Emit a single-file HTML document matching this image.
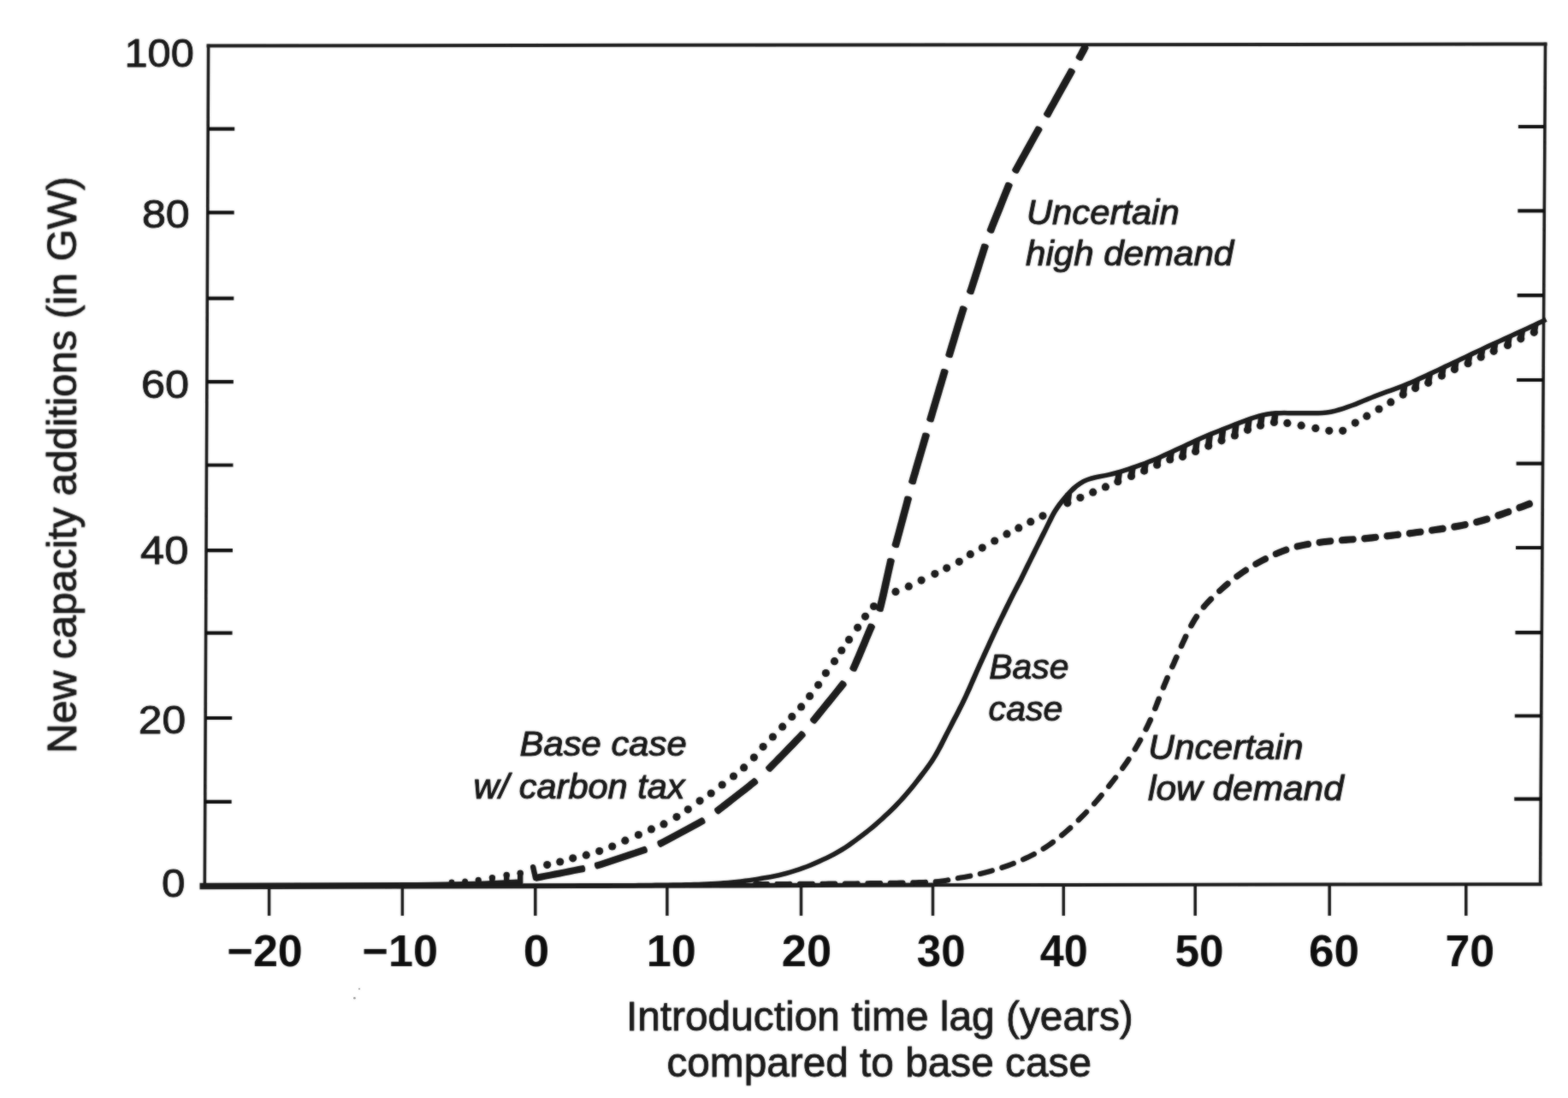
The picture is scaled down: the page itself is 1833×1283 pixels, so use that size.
<!DOCTYPE html>
<html lang="en">
<head>
<meta charset="utf-8">
<title>New capacity additions vs. introduction time lag</title>
<style>
html,body{margin:0;padding:0;background:#fff;}
body{width:1833px;height:1283px;overflow:hidden;}
svg{display:block;}
text{font-family:"Liberation Sans","DejaVu Sans",sans-serif;fill:#1a1a1a;}
.r{stroke:#1a1a1a;stroke-width:0.9px;stroke-linejoin:round;}
.b{font-weight:bold;fill:#080808;}
.i{font-style:italic;stroke:#1a1a1a;stroke-width:1.1px;stroke-linejoin:round;}
</style>
</head>
<body>
<svg width="1833" height="1283" viewBox="0 0 1833 1283">
<defs><filter id="soft" x="0" y="0" width="1833" height="1283" filterUnits="userSpaceOnUse"><feGaussianBlur stdDeviation="0.9" result="b"/><feComposite in="SourceGraphic" in2="b" operator="arithmetic" k1="0" k2="0.5" k3="0.5" k4="0"/></filter></defs>
<rect width="1833" height="1283" fill="#fff"/>
<g id="figure" filter="url(#soft)">
<g id="axes" fill="none" stroke="#1a1a1a">
<path id="frame-h" d="M243.6 53.5 L1806.5 51.5 M1800.6 1033.2 L239.3 1035.4" stroke-width="4" stroke-linecap="square"/>
<path id="frame-v" d="M243.6 53.5 L239.3 1035.4 M1806.5 51.5 L1800.6 1033.2" stroke-width="3.6" stroke-linecap="square"/>
<path id="yticks" d="M243.2 150.6 h31 M242.7 248.4 h31 M242.3 348.6 h31 M241.9 446.1 h31 M241.5 543.5 h31 M241 643.1 h31 M240.6 739.7 h31 M240.2 839 h31 M239.7 936.8 h31 M1805.9 148 h-31 M1805.3 246.4 h-31 M1804.7 345.2 h-31 M1804.1 444 h-31 M1803.6 541.6 h-31 M1803 640 h-31 M1802.4 739.1 h-31 M1801.8 836.5 h-31 M1801.2 933.6 h-31" stroke-width="4.2" stroke="#111"/>
<path id="xticks" d="M314.6 1035.3 V1070 M470.4 1035.1 V1070 M625.8 1034.9 V1070 M779.9 1034.6 V1070 M936.5 1034.4 V1070 M1090.5 1034.2 V1070 M1243.3 1034 V1070 M1397.2 1033.8 V1070 M1554.2 1033.5 V1070 M1713.8 1033.3 V1070" stroke-width="3.5"/>
</g>
<g id="curves" fill="#1a1a1a" stroke="none">
<path id="zero-band" d="M233.5 1031.8 L480 1031 L520 1030.6 L565 1029.6 L609.5 1027.2 L609.5 1032.4 L880 1031.8 L1092 1031.6 L1092 1036.4 L880 1037.4 L609.5 1038.3 L233.5 1039.2 Z"/>
<path id="base-case" d="M612 1037.9 L617 1037.9 L622 1037.9 L627 1037.9 L631.9 1037.9 L636.9 1037.9 L641.9 1037.9 L646.9 1037.9 L651.9 1037.9 L656.9 1037.9 L661.8 1037.9 L666.8 1037.9 L671.8 1037.9 L676.8 1037.8 L681.8 1037.8 L686.8 1037.8 L691.7 1037.8 L696.7 1037.8 L701.7 1037.7 L706.7 1037.7 L711.7 1037.7 L716.7 1037.6 L721.7 1037.6 L726.6 1037.6 L731.6 1037.5 L736.6 1037.5 L741.6 1037.4 L746.6 1037.3 L751.6 1037.3 L756.6 1037.2 L761.5 1037.2 L766.5 1037.1 L771.5 1037 L776.5 1037 L781.5 1036.9 L786.5 1036.8 L791.4 1036.8 L796.4 1036.7 L801.4 1036.6 L806.4 1036.5 L811.4 1036.3 L816.4 1036.2 L821.4 1036 L826.4 1035.8 L831.4 1035.5 L836.4 1035.2 L841.4 1034.9 L846.4 1034.5 L851.4 1034.1 L856.4 1033.7 L861.3 1033.2 L866.3 1032.6 L871.3 1032 L876.3 1031.3 L881.2 1030.6 L886.2 1029.9 L891.1 1029.1 L896.1 1028.3 L901 1027.4 L905.9 1026.5 L910.9 1025.4 L915.8 1024.2 L920.7 1022.9 L925.5 1021.6 L930.3 1020.1 L935.1 1018.5 L939.9 1016.8 L944.6 1015.1 L949.3 1013.2 L953.9 1011.3 L958.5 1009.2 L963.1 1007.1 L967.6 1005 L972.1 1002.7 L976.6 1000.4 L981 997.9 L985.4 995.4 L989.7 992.7 L993.9 989.9 L998 987 L1002 984 L1006.1 981 L1010.1 978 L1014 974.9 L1018 971.8 L1021.9 968.7 L1025.7 965.4 L1029.5 962.1 L1033.3 958.8 L1036.9 955.3 L1040.6 951.9 L1044.2 948.4 L1047.8 944.9 L1051.3 941.3 L1054.8 937.6 L1058.1 933.9 L1061.5 930.1 L1064.7 926.3 L1067.9 922.4 L1071.1 918.5 L1074.2 914.6 L1077.3 910.7 L1080.3 906.7 L1083.3 902.7 L1086.3 898.7 L1089.3 894.6 L1092.1 890.4 L1094.9 886.1 L1097.5 881.8 L1099.9 877.3 L1102.3 872.9 L1104.5 868.4 L1106.8 864 L1109 859.5 L1111.3 855.1 L1113.6 850.7 L1115.9 846.3 L1118.2 841.8 L1120.5 837.4 L1122.8 833 L1125 828.5 L1127.3 824 L1129.5 819.5 L1131.6 815 L1133.7 810.4 L1135.8 805.9 L1137.8 801.3 L1139.8 796.7 L1141.8 792.2 L1143.8 787.6 L1145.8 783.1 L1147.8 778.5 L1149.9 774 L1151.9 769.4 L1154 764.9 L1156 760.4 L1158.1 755.9 L1160.2 751.3 L1162.3 746.8 L1164.4 742.3 L1166.5 737.8 L1168.6 733.3 L1170.8 728.8 L1172.9 724.3 L1175.1 719.9 L1177.3 715.4 L1179.5 710.9 L1181.7 706.5 L1183.9 702 L1186.1 697.6 L1188.4 693.1 L1190.7 688.7 L1193 684.3 L1195.3 679.9 L1197.5 675.4 L1199.7 670.9 L1201.9 666.4 L1204.1 662 L1206.3 657.5 L1208.5 653 L1210.8 648.6 L1213 644.1 L1215.2 639.6 L1217.4 635.2 L1219.6 630.7 L1221.9 626.3 L1224.1 621.8 L1226.3 617.3 L1228.5 612.8 L1230.7 608.4 L1232.9 604 L1235.2 599.8 L1237.8 595.7 L1240.6 591.7 L1243.5 587.8 L1246.6 584 L1249.8 580.3 L1253.1 576.8 L1256.6 573.4 L1260.1 570.2 L1263.9 567.4 L1267.9 565 L1272.2 563.1 L1276.7 561.7 L1281.4 560.5 L1286.2 559.5 L1291.1 558.6 L1296.1 557.5 L1301 556.4 L1305.9 555.2 L1310.7 553.8 L1315.5 552.3 L1320.3 550.7 L1325 549.1 L1329.8 547.5 L1334.5 545.8 L1339.2 544.1 L1343.9 542.3 L1348.6 540.5 L1353.2 538.5 L1357.8 536.5 L1362.4 534.4 L1366.9 532.3 L1371.5 530.3 L1376 528.2 L1380.5 526.1 L1385.1 524 L1389.6 521.9 L1394.1 519.8 L1398.6 517.7 L1403.1 515.6 L1407.6 513.5 L1412.1 511.6 L1416.7 509.7 L1421.3 507.9 L1426 506.1 L1430.6 504.2 L1435.2 502.4 L1439.9 500.6 L1444.5 498.7 L1449.1 497 L1453.8 495.2 L1458.4 493.5 L1463.1 491.8 L1467.7 490.3 L1472.4 488.9 L1477.1 487.6 L1481.8 486.7 L1486.6 486 L1491.4 485.6 L1496.3 485.4 L1501.2 485.3 L1506.2 485.4 L1511.2 485.4 L1516.2 485.4 L1521.1 485.5 L1526.1 485.5 L1531.1 485.6 L1536.1 485.6 L1541.2 485.6 L1546.3 485.3 L1551.4 484.8 L1556.5 483.9 L1561.5 482.8 L1566.4 481.4 L1571.2 479.9 L1576 478.3 L1580.7 476.6 L1585.5 474.9 L1590.1 473 L1594.7 471.1 L1599.3 469.2 L1603.9 467.3 L1608.6 465.5 L1613.2 463.7 L1617.8 462 L1622.5 460.3 L1627.2 458.7 L1631.9 457 L1636.6 455.2 L1641.3 453.4 L1645.9 451.5 L1650.6 449.5 L1655.1 447.5 L1659.7 445.4 L1664.2 443.4 L1668.8 441.3 L1673.3 439.2 L1677.8 437 L1682.3 434.9 L1686.8 432.8 L1691.3 430.7 L1695.9 428.5 L1700.4 426.4 L1704.9 424.3 L1709.4 422.1 L1713.9 420 L1718.4 417.8 L1722.9 415.7 L1727.4 413.6 L1731.9 411.4 L1736.4 409.3 L1740.9 407.2 L1745.4 405.1 L1749.9 403 L1754.4 401 L1759 398.9 L1763.5 396.9 L1768.1 394.8 L1772.6 392.7 L1777.1 390.7 L1781.7 388.6 L1786.2 386.5 L1790.7 384.4 L1795.3 382.3 L1799.8 380.1 L1804.3 377.9 L1808.7 375.7 L1806.3 370.7 L1801.8 372.9 L1797.3 375 L1792.8 377.2 L1788.4 379.3 L1783.8 381.4 L1779.3 383.5 L1774.8 385.6 L1770.3 387.6 L1765.7 389.7 L1761.2 391.8 L1756.7 393.8 L1752.1 395.9 L1747.6 397.9 L1743 400 L1738.5 402.1 L1734 404.2 L1729.5 406.4 L1725 408.5 L1720.5 410.6 L1716 412.8 L1711.5 414.9 L1707 417.1 L1702.5 419.2 L1698 421.3 L1693.5 423.5 L1688.9 425.6 L1684.4 427.7 L1679.9 429.9 L1675.4 432 L1670.9 434.1 L1666.4 436.2 L1661.9 438.3 L1657.4 440.3 L1652.9 442.4 L1648.3 444.4 L1643.8 446.3 L1639.2 448.2 L1634.6 450 L1630 451.7 L1625.3 453.4 L1620.6 455.1 L1615.9 456.8 L1611.2 458.5 L1606.5 460.3 L1601.9 462.2 L1597.2 464 L1592.6 465.9 L1588 467.8 L1583.4 469.7 L1578.8 471.4 L1574.2 473.1 L1569.5 474.7 L1564.8 476.1 L1560.1 477.4 L1555.4 478.5 L1550.7 479.3 L1545.9 479.8 L1541 480.1 L1536.1 480.1 L1531.2 480.1 L1526.2 480 L1521.2 480 L1516.2 479.9 L1511.2 479.9 L1506.2 479.9 L1501.2 479.8 L1496.2 479.9 L1491.1 480.1 L1486 480.5 L1480.9 481.2 L1475.9 482.2 L1470.9 483.5 L1466.1 485 L1461.3 486.6 L1456.5 488.3 L1451.8 490 L1447.1 491.7 L1442.5 493.5 L1437.8 495.4 L1433.2 497.2 L1428.5 499.1 L1423.9 500.9 L1419.3 502.7 L1414.6 504.6 L1410 506.4 L1405.4 508.4 L1400.8 510.5 L1396.2 512.6 L1391.7 514.7 L1387.2 516.8 L1382.7 518.9 L1378.2 521 L1373.7 523.1 L1369.1 525.2 L1364.6 527.2 L1360.1 529.3 L1355.5 531.4 L1351 533.4 L1346.5 535.3 L1341.9 537.1 L1337.3 538.9 L1332.6 540.6 L1328 542.2 L1323.3 543.8 L1318.5 545.4 L1313.8 547 L1309.1 548.5 L1304.4 549.8 L1299.7 551 L1294.9 552.2 L1290 553.2 L1285.2 554.1 L1280.2 555.1 L1275.2 556.3 L1270.2 557.9 L1265.4 560 L1260.8 562.7 L1256.6 565.7 L1252.6 569.1 L1249 572.7 L1245.5 576.5 L1242.2 580.3 L1239 584.2 L1235.8 588.2 L1232.9 592.4 L1230.1 596.7 L1227.6 601.2 L1225.3 605.7 L1223.2 610.2 L1221 614.7 L1218.8 619.2 L1216.5 623.6 L1214.3 628.1 L1212.1 632.5 L1209.9 637 L1207.6 641.5 L1205.4 645.9 L1203.2 650.4 L1201 654.9 L1198.8 659.3 L1196.6 663.8 L1194.4 668.3 L1192.2 672.7 L1190 677.2 L1187.7 681.6 L1185.4 686 L1183.1 690.4 L1180.8 694.9 L1178.6 699.3 L1176.4 703.8 L1174.1 708.3 L1171.9 712.8 L1169.8 717.3 L1167.6 721.8 L1165.4 726.3 L1163.3 730.8 L1161.1 735.3 L1159 739.8 L1156.9 744.3 L1154.8 748.8 L1152.7 753.4 L1150.6 757.9 L1148.5 762.4 L1146.5 767 L1144.4 771.5 L1142.4 776.1 L1140.4 780.6 L1138.3 785.2 L1136.3 789.8 L1134.3 794.3 L1132.3 798.9 L1130.3 803.5 L1128.3 808 L1126.3 812.5 L1124.1 817 L1122 821.4 L1119.7 825.8 L1117.5 830.3 L1115.2 834.7 L1112.9 839.1 L1110.6 843.5 L1108.4 848 L1106.1 852.4 L1103.8 856.8 L1101.5 861.3 L1099.2 865.7 L1097 870.1 L1094.7 874.5 L1092.3 878.8 L1089.9 883 L1087.2 887.2 L1084.5 891.2 L1081.6 895.2 L1078.7 899.2 L1075.7 903.1 L1072.6 907.1 L1069.6 911 L1066.5 914.9 L1063.4 918.7 L1060.3 922.6 L1057.1 926.3 L1053.8 930 L1050.5 933.7 L1047.1 937.3 L1043.7 940.8 L1040.2 944.3 L1036.6 947.7 L1033 951.1 L1029.4 954.5 L1025.7 957.8 L1022 961.1 L1018.2 964.2 L1014.4 967.4 L1010.5 970.4 L1006.6 973.4 L1002.6 976.4 L998.7 979.4 L994.7 982.3 L990.6 985.2 L986.6 987.9 L982.4 990.5 L978.2 993 L973.9 995.4 L969.6 997.7 L965.2 999.9 L960.7 1002.1 L956.2 1004.1 L951.7 1006.1 L947.2 1008 L942.6 1009.9 L938 1011.6 L933.3 1013.2 L928.6 1014.8 L923.9 1016.2 L919.2 1017.6 L914.4 1018.8 L909.6 1020 L904.8 1021 L900 1022 L895.1 1022.8 L890.2 1023.6 L885.3 1024.4 L880.4 1025.2 L875.5 1025.9 L870.6 1026.6 L865.7 1027.2 L860.8 1027.7 L855.8 1028.2 L850.9 1028.7 L846 1029 L841 1029.4 L836.1 1029.7 L831.1 1030 L826.1 1030.3 L821.2 1030.5 L816.2 1030.7 L811.3 1030.8 L806.3 1031 L801.3 1031.1 L796.3 1031.2 L791.4 1031.3 L786.4 1031.3 L781.4 1031.4 L776.4 1031.5 L771.4 1031.5 L766.4 1031.6 L761.5 1031.7 L756.5 1031.7 L751.5 1031.8 L746.5 1031.8 L741.5 1031.9 L736.6 1032 L731.6 1032 L726.6 1032.1 L721.6 1032.1 L716.6 1032.1 L711.7 1032.2 L706.7 1032.2 L701.7 1032.2 L696.7 1032.3 L691.7 1032.3 L686.7 1032.3 L681.8 1032.3 L676.8 1032.3 L671.8 1032.4 L666.8 1032.4 L661.8 1032.4 L656.8 1032.4 L651.9 1032.4 L646.9 1032.4 L641.9 1032.4 L636.9 1032.4 L631.9 1032.4 L626.9 1032.4 L622 1032.4 L617 1032.4 L612 1032.5Z"/>
<path id="low-demand" d="M882.1 1035.2 L886 1035.2 L890 1035.2 L893.9 1035.2 L897.8 1035.2 L898.9 1034.8 L899.7 1033.9 L900 1032.6 L899.7 1031.2 L898.9 1030.3 L897.8 1029.9 L893.9 1029.9 L890 1030 L886 1030 L882.1 1030 L881 1030.3 L880.3 1031.3 L880 1032.6 L880.3 1033.9 L881 1034.9Z M907.5 1035.2 L911.7 1035.2 L915.9 1035.2 L920.1 1035.2 L924.3 1035.2 L925.3 1034.8 L926.1 1033.9 L926.4 1032.5 L926.1 1031.2 L925.3 1030.2 L924.2 1029.8 L920.1 1029.9 L915.9 1029.9 L911.7 1029.9 L907.5 1029.9 L906.5 1030.3 L905.7 1031.2 L905.4 1032.6 L905.7 1033.9 L906.5 1034.8Z M934 1035.2 L938.2 1035.2 L942.3 1035.2 L946.5 1035.2 L950.7 1035.2 L951.8 1034.8 L952.6 1033.8 L952.8 1032.5 L952.6 1031.1 L951.7 1030.1 L950.7 1029.7 L946.5 1029.7 L942.3 1029.8 L938.2 1029.8 L934 1029.8 L932.9 1030.2 L932.1 1031.2 L931.9 1032.5 L932.1 1033.9 L932.9 1034.8Z M960.5 1035.2 L964.7 1035.2 L968.8 1035.2 L972.9 1035.2 L977.1 1035.1 L978.2 1034.8 L979 1033.7 L979.3 1032.3 L979 1031 L978.2 1029.9 L977.1 1029.6 L972.9 1029.6 L968.8 1029.6 L964.6 1029.7 L960.5 1029.7 L959.4 1030.1 L958.6 1031.1 L958.3 1032.4 L958.6 1033.8 L959.4 1034.8Z M987 1035.1 L991.1 1035.1 L995.3 1035.1 L999.4 1035 L1003.5 1035 L1004.6 1034.6 L1005.5 1033.6 L1005.7 1032.1 L1005.4 1030.7 L1004.6 1029.7 L1003.5 1029.3 L999.3 1029.4 L995.2 1029.4 L991.1 1029.5 L987 1029.5 L985.9 1029.9 L985 1030.9 L984.7 1032.3 L985.1 1033.7 L985.9 1034.7Z M1013.5 1034.9 L1017.6 1034.9 L1021.7 1034.8 L1025.8 1034.8 L1029.9 1034.7 L1031.1 1034.3 L1031.9 1033.3 L1032.2 1031.8 L1031.9 1030.4 L1031 1029.3 L1029.9 1029 L1025.8 1029 L1021.7 1029.1 L1017.6 1029.1 L1013.5 1029.2 L1012.3 1029.6 L1011.5 1030.7 L1011.2 1032.1 L1011.5 1033.5 L1012.4 1034.5Z M1040 1034.6 L1044.1 1034.6 L1048.2 1034.5 L1052.3 1034.4 L1056.4 1034.4 L1057.5 1034 L1058.4 1032.9 L1058.6 1031.4 L1058.3 1029.9 L1057.4 1028.9 L1056.2 1028.5 L1052.2 1028.6 L1048.1 1028.7 L1044 1028.7 L1039.9 1028.8 L1038.8 1029.2 L1037.9 1030.3 L1037.6 1031.8 L1038 1033.2 L1038.8 1034.3Z M1066.5 1034.2 L1070.6 1034.1 L1074.7 1034 L1078.7 1033.9 L1082.8 1033.8 L1084 1033.3 L1084.8 1032.2 L1085.1 1030.7 L1084.7 1029.2 L1083.8 1028.1 L1082.6 1027.8 L1078.5 1027.9 L1074.5 1028.1 L1070.4 1028.2 L1066.4 1028.3 L1065.2 1028.7 L1064.4 1029.8 L1064.1 1031.3 L1064.4 1032.8 L1065.3 1033.8Z M1093.2 1033.2 L1097.3 1032.9 L1101.3 1032.5 L1105.4 1031.9 L1109.5 1031.2 L1110.6 1030.6 L1111.3 1029.4 L1111.3 1027.8 L1110.7 1026.4 L1109.7 1025.5 L1108.4 1025.3 L1104.5 1026 L1100.6 1026.5 L1096.7 1026.9 L1092.7 1027.2 L1091.6 1027.7 L1090.8 1028.9 L1090.6 1030.4 L1091 1031.9 L1091.9 1032.9Z M1119.7 1029.3 L1123.6 1028.6 L1127.6 1027.9 L1131.5 1027.2 L1135.5 1026.5 L1136.6 1025.8 L1137.3 1024.5 L1137.3 1023 L1136.7 1021.6 L1135.6 1020.6 L1134.3 1020.5 L1130.4 1021.2 L1126.5 1022 L1122.6 1022.6 L1118.6 1023.3 L1117.5 1023.9 L1116.8 1025.2 L1116.7 1026.7 L1117.3 1028.2 L1118.4 1029.1Z M1145.9 1024.2 L1149.8 1023.2 L1153.6 1022.2 L1157.5 1021.2 L1161.4 1020.1 L1162.4 1019.3 L1163 1018 L1162.9 1016.5 L1162.1 1015.1 L1161 1014.2 L1159.7 1014.2 L1155.9 1015.3 L1152.1 1016.3 L1148.3 1017.3 L1144.4 1018.3 L1143.3 1018.9 L1142.7 1020.2 L1142.8 1021.8 L1143.4 1023.2 L1144.6 1024.1Z M1171.6 1016.9 L1175.4 1015.7 L1179.2 1014.4 L1182.9 1013 L1186.6 1011.6 L1187.6 1010.7 L1188 1009.3 L1187.8 1007.8 L1186.9 1006.5 L1185.7 1005.7 L1184.4 1005.8 L1180.7 1007.2 L1177.1 1008.6 L1173.4 1009.8 L1169.7 1011.1 L1168.7 1011.8 L1168.2 1013.2 L1168.3 1014.8 L1169.1 1016.1 L1170.3 1016.9Z M1196.7 1007.3 L1200.3 1005.7 L1203.9 1004.1 L1207.4 1002.3 L1210.9 1000.5 L1211.8 999.6 L1212.1 998.1 L1211.6 996.6 L1210.6 995.4 L1209.2 994.8 L1208 995 L1204.6 996.8 L1201.2 998.5 L1197.7 1000.1 L1194.2 1001.7 L1193.3 1002.6 L1192.9 1004 L1193.2 1005.5 L1194.1 1006.8 L1195.4 1007.5Z M1220.7 994.8 L1224 992.7 L1227.2 990.6 L1230.3 988.4 L1233.4 986.1 L1234.1 985 L1234.2 983.6 L1233.5 982.1 L1232.3 981.1 L1230.9 980.7 L1229.6 981.1 L1226.6 983.3 L1223.6 985.4 L1220.5 987.5 L1217.4 989.5 L1216.6 990.5 L1216.4 992 L1217 993.5 L1218.1 994.6 L1219.5 995.1Z M1242.6 979 L1246.4 975.8 L1250.2 972.5 L1253.9 969.2 L1254.5 968 L1254.4 966.6 L1253.6 965.2 L1252.3 964.2 L1250.9 964 L1249.6 964.5 L1246 967.8 L1242.3 971 L1238.6 974.1 L1237.9 975.2 L1237.9 976.7 L1238.6 978.1 L1239.9 979.1 L1241.3 979.4Z M1262.5 961 L1266 957.6 L1269.5 954.1 L1272.8 950.6 L1273.4 949.4 L1273.2 947.9 L1272.3 946.6 L1270.9 945.7 L1269.4 945.6 L1268.3 946.2 L1264.9 949.7 L1261.5 953.1 L1258.1 956.5 L1257.5 957.7 L1257.7 959.2 L1258.5 960.5 L1259.9 961.4 L1261.3 961.6Z M1281.1 941.7 L1284.3 938.1 L1287.4 934.5 L1290.5 930.8 L1291 929.5 L1290.7 928.1 L1289.7 926.8 L1288.3 926 L1286.8 926 L1285.6 926.7 L1282.6 930.3 L1279.5 933.9 L1276.3 937.5 L1275.8 938.7 L1276 940.2 L1277 941.5 L1278.4 942.3 L1279.9 942.4Z M1298.3 921.3 L1301.2 917.6 L1304.1 913.8 L1307 910.1 L1307.5 908.8 L1307.1 907.3 L1306 906.1 L1304.6 905.4 L1303.1 905.4 L1301.9 906.2 L1299.1 909.9 L1296.2 913.6 L1293.3 917.3 L1292.8 918.6 L1293.1 920 L1294.2 921.3 L1295.6 922 L1297.1 922Z M1314.5 900.1 L1317.2 896.2 L1319.9 892.4 L1322.5 888.4 L1322.8 887.1 L1322.4 885.7 L1321.2 884.5 L1319.7 883.9 L1318.2 884.1 L1317.1 884.9 L1314.6 888.7 L1311.9 892.6 L1309.3 896.3 L1308.9 897.6 L1309.3 899.1 L1310.4 900.3 L1311.9 900.9 L1313.4 900.9Z M1329.3 877.7 L1331.6 873.7 L1333.9 869.7 L1336.2 865.7 L1336.5 864.3 L1335.9 862.9 L1334.6 861.8 L1333 861.4 L1331.5 861.6 L1330.5 862.5 L1328.3 866.5 L1326 870.5 L1323.7 874.4 L1323.4 875.7 L1324 877.1 L1325.2 878.3 L1326.7 878.8 L1328.2 878.6Z M1342.2 854.3 L1344.2 850.2 L1346.2 846 L1348.1 841.9 L1348.2 840.5 L1347.5 839.1 L1346.2 838.2 L1344.6 837.8 L1343.1 838.2 L1342.1 839.2 L1340.3 843.3 L1338.4 847.3 L1336.4 851.3 L1336.2 852.7 L1336.9 854.1 L1338.2 855.1 L1339.8 855.5 L1341.3 855.2Z M1353.1 829.8 L1354.8 825.6 L1356.4 821.4 L1358 817.3 L1358.1 815.9 L1357.3 814.6 L1355.9 813.6 L1354.3 813.4 L1352.8 813.8 L1351.9 814.9 L1350.3 819.1 L1348.7 823.2 L1347.1 827.4 L1347 828.8 L1347.7 830.1 L1349.1 831 L1350.8 831.3 L1352.2 830.8Z M1362.8 805.2 L1364.5 801 L1366.2 796.9 L1367.9 792.8 L1368 791.4 L1367.3 790.1 L1365.9 789.1 L1364.2 788.8 L1362.8 789.2 L1361.8 790.2 L1360.1 794.4 L1358.4 798.6 L1356.7 802.8 L1356.6 804.1 L1357.4 805.5 L1358.8 806.4 L1360.4 806.7 L1361.9 806.2Z M1373.1 781 L1375 776.9 L1376.8 772.8 L1378.6 768.7 L1378.8 767.3 L1378 765.9 L1376.7 764.9 L1375 764.6 L1373.5 765 L1372.6 766 L1370.8 770.1 L1369 774.2 L1367.1 778.3 L1367 779.7 L1367.7 781 L1369 782 L1370.7 782.4 L1372.2 782Z M1383.8 756.8 L1385.6 752.7 L1387.5 748.7 L1389.4 744.6 L1389.6 743.2 L1388.9 741.8 L1387.5 740.8 L1385.9 740.4 L1384.4 740.8 L1383.4 741.8 L1381.5 745.9 L1379.6 750 L1377.8 754.1 L1377.6 755.5 L1378.3 756.9 L1379.7 757.9 L1381.4 758.2 L1382.9 757.8Z M1395.1 733.3 L1397.3 729.4 L1399.6 725.6 L1402 721.9 L1402.4 720.5 L1401.9 719 L1400.7 717.7 L1399 717.1 L1397.4 717.2 L1396.3 718.1 L1393.8 722 L1391.4 726 L1389.2 730.1 L1389 731.5 L1389.6 732.9 L1390.9 734.1 L1392.6 734.5 L1394.1 734.3Z M1409.3 712 L1412.3 708.6 L1415.4 705.3 L1418.6 702 L1419.3 700.7 L1419.1 699 L1418.1 697.5 L1416.6 696.6 L1415 696.4 L1413.7 697 L1410.3 700.5 L1407.1 704 L1404 707.6 L1403.5 709 L1403.8 710.6 L1404.9 712 L1406.5 712.8 L1408.1 712.8Z M1427.5 693.6 L1431 690.5 L1434.5 687.4 L1438 684.4 L1438.8 683.1 L1438.8 681.4 L1437.9 679.8 L1436.4 678.7 L1434.8 678.3 L1433.3 678.9 L1429.7 682 L1426.2 685.2 L1422.7 688.4 L1422 689.7 L1422.1 691.3 L1423 692.9 L1424.5 694 L1426.1 694.2Z M1447.5 677 L1451.3 674.2 L1455.1 671.6 L1459 669 L1460 667.8 L1460.1 666 L1459.5 664.2 L1458.1 662.9 L1456.4 662.3 L1454.9 662.7 L1450.9 665.4 L1447 668.2 L1443.1 671.1 L1442.2 672.3 L1442.2 674.1 L1442.9 675.8 L1444.4 677 L1446 677.4Z M1469.2 662.8 L1473.3 660.5 L1477.5 658.3 L1481.7 656.2 L1482.8 655 L1483.2 653.3 L1482.7 651.4 L1481.5 649.8 L1479.8 649.1 L1478.2 649.3 L1473.9 651.5 L1469.7 653.8 L1465.4 656.2 L1464.4 657.4 L1464.1 659.2 L1464.7 661 L1466 662.5 L1467.7 663.1Z M1492.5 651.1 L1496.8 649.3 L1501.2 647.6 L1505.5 646 L1506.9 644.9 L1507.5 643.2 L1507.2 641.2 L1506.2 639.4 L1504.6 638.5 L1502.9 638.5 L1498.3 640.2 L1493.8 642.1 L1489.3 644 L1488.1 645.1 L1487.6 646.9 L1488 648.8 L1489.2 650.4 L1490.8 651.3Z M1516.8 642.6 L1521.3 641.6 L1526 640.6 L1530.6 639.7 L1532.1 638.9 L1533 637.2 L1533.1 635.2 L1532.3 633.2 L1530.9 632 L1529.2 631.7 L1524.4 632.7 L1519.6 633.7 L1514.8 634.8 L1513.3 635.8 L1512.6 637.5 L1512.7 639.5 L1513.6 641.4 L1515.1 642.5Z M1542.3 637.9 L1547 637.3 L1551.8 636.8 L1556.5 636.3 L1558.1 635.6 L1559.1 634 L1559.4 632 L1558.8 630 L1557.4 628.6 L1555.8 628.2 L1550.9 628.7 L1546.1 629.2 L1541.2 629.9 L1539.7 630.6 L1538.7 632.2 L1538.5 634.3 L1539.2 636.3 L1540.6 637.6Z M1568.4 635.3 L1573.2 635 L1578 634.6 L1582.8 634.3 L1584.4 633.6 L1585.5 632.1 L1585.8 630 L1585.2 628 L1583.9 626.6 L1582.2 626.2 L1577.4 626.5 L1572.6 626.8 L1567.8 627.2 L1566.2 627.9 L1565.1 629.5 L1564.8 631.5 L1565.4 633.5 L1566.7 634.9Z M1594.8 633.4 L1599.7 632.9 L1604.5 632.4 L1609.3 631.8 L1610.9 631.1 L1611.9 629.5 L1612.1 627.4 L1611.4 625.4 L1610 624.1 L1608.3 623.7 L1603.6 624.3 L1598.9 624.8 L1594.1 625.2 L1592.5 625.9 L1591.5 627.5 L1591.2 629.6 L1591.8 631.6 L1593.2 633Z M1621.2 630.4 L1626 629.9 L1630.8 629.3 L1635.6 628.8 L1637.1 628.1 L1638.1 626.4 L1638.3 624.3 L1637.7 622.4 L1636.3 621 L1634.6 620.6 L1629.9 621.2 L1625.1 621.7 L1620.3 622.3 L1618.7 623 L1617.7 624.7 L1617.5 626.7 L1618.2 628.7 L1619.6 630.1Z M1647.6 627.4 L1652.3 626.8 L1657.1 626.1 L1661.9 625.5 L1663.4 624.7 L1664.4 623.1 L1664.6 621 L1663.9 619 L1662.5 617.7 L1660.8 617.4 L1656 618 L1651.3 618.7 L1646.5 619.3 L1645 620 L1644 621.6 L1643.8 623.7 L1644.5 625.7 L1645.9 627Z M1673.9 623.8 L1678.6 623.1 L1683.3 622.4 L1688.1 621.7 L1689.6 620.9 L1690.6 619.2 L1690.7 617.1 L1690 615.2 L1688.6 613.9 L1686.9 613.6 L1682.1 614.3 L1677.4 615 L1672.7 615.7 L1671.1 616.4 L1670.2 618.1 L1670 620.2 L1670.7 622.2 L1672.2 623.5Z M1700.1 619.7 L1704.9 618.9 L1709.6 617.9 L1714.3 617 L1715.8 616.1 L1716.7 614.4 L1716.7 612.3 L1715.9 610.3 L1714.4 609.1 L1712.6 608.9 L1708 609.9 L1703.4 610.8 L1698.7 611.6 L1697.2 612.4 L1696.3 614.1 L1696.2 616.2 L1697 618.2 L1698.4 619.5Z M1726.4 614.2 L1731 613 L1735.7 611.7 L1740.3 610.3 L1741.7 609.3 L1742.4 607.5 L1742.2 605.4 L1741.1 603.5 L1739.5 602.5 L1737.8 602.4 L1733.3 603.8 L1728.9 605.1 L1724.4 606.2 L1722.9 607.2 L1722.1 608.9 L1722.2 611 L1723.1 612.9 L1724.7 614.1Z M1752.1 606.4 L1756.5 604.9 L1761 603.3 L1765.4 601.7 L1766.8 600.6 L1767.4 598.7 L1767.1 596.6 L1766 594.8 L1764.3 593.8 L1762.6 593.9 L1758.2 595.5 L1753.8 597.1 L1749.4 598.6 L1748 599.7 L1747.3 601.5 L1747.6 603.6 L1748.7 605.4 L1750.3 606.4Z M1777 597.3 L1781.4 595.7 L1785.8 594 L1790.2 592.4 L1791.5 591.3 L1792.1 589.5 L1791.8 587.4 L1790.7 585.6 L1789 584.6 L1787.3 584.6 L1782.9 586.3 L1778.5 587.9 L1774.1 589.6 L1772.8 590.7 L1772.2 592.5 L1772.5 594.6 L1773.6 596.4 L1775.3 597.4Z"/>
<path id="high-demand" d="M1265 52.6 L1262.5 57.1 L1260.1 61.7 L1257.7 66.1 L1257.6 67.4 L1258.6 68.8 L1260.4 70.1 L1262.4 70.9 L1264.1 71 L1265.2 70.4 L1267.7 65.8 L1270.2 61.2 L1272.6 56.6 L1272.6 55.4 L1271.6 54 L1269.8 52.7 L1267.8 51.9 L1266 51.9Z M1249.3 80.2 L1246.7 85 L1244 89.8 L1241.3 94.5 L1238.7 99.3 L1236 104.1 L1233.4 108.8 L1230.7 113.6 L1228.1 118.4 L1225.4 123.1 L1222.7 127.9 L1220.1 132.6 L1220 133.8 L1221 135.3 L1222.8 136.6 L1224.8 137.4 L1226.5 137.5 L1227.6 136.9 L1230.3 132.1 L1232.9 127.3 L1235.6 122.6 L1238.2 117.8 L1240.9 113 L1243.5 108.3 L1246.2 103.5 L1248.9 98.7 L1251.5 94 L1254.2 89.2 L1256.8 84.5 L1256.9 83.2 L1255.9 81.8 L1254.1 80.5 L1252.1 79.7 L1250.4 79.6Z M1210.9 147.9 L1208.1 152.9 L1205.3 157.9 L1202.5 162.9 L1199.7 167.9 L1196.9 172.9 L1194.2 177.9 L1191.4 182.9 L1188.6 187.9 L1185.9 193 L1183.1 198 L1183.1 199.2 L1184.1 200.7 L1185.9 201.9 L1187.9 202.7 L1189.7 202.8 L1190.7 202.1 L1193.4 197.1 L1196.2 192.1 L1198.9 187.1 L1201.7 182.1 L1204.5 177.1 L1207.3 172.1 L1210 167.1 L1212.8 162.1 L1215.6 157.1 L1218.4 152.2 L1218.5 151 L1217.5 149.5 L1215.7 148.2 L1213.7 147.4 L1212 147.3Z M1175.6 213.8 L1173.4 219.2 L1171.2 224.7 L1169 230.2 L1166.8 235.7 L1164.6 241.2 L1162.4 246.6 L1160.2 252.1 L1158 257.6 L1155.8 263.1 L1153.7 268.6 L1153.8 269.8 L1155 271.1 L1156.9 272.2 L1159 272.7 L1160.8 272.6 L1161.8 271.8 L1163.9 266.3 L1166.1 260.8 L1168.3 255.3 L1170.5 249.9 L1172.7 244.4 L1174.8 238.9 L1177 233.4 L1179.2 228 L1181.5 222.5 L1183.7 217 L1183.6 215.8 L1182.4 214.5 L1180.5 213.4 L1178.4 212.8 L1176.6 213Z M1147.5 285.6 L1145.7 291.1 L1144 296.6 L1142.2 302.1 L1140.5 307.6 L1138.8 313.1 L1137 318.5 L1135.3 324 L1133.5 329.5 L1131.8 334.9 L1130 340.3 L1130.2 341.5 L1131.4 342.8 L1133.4 343.8 L1135.5 344.3 L1137.3 344.1 L1138.2 343.2 L1140 337.7 L1141.8 332.2 L1143.6 326.7 L1145.3 321.2 L1147.1 315.7 L1148.8 310.2 L1150.5 304.7 L1152.3 299.2 L1154 293.7 L1155.8 288.3 L1155.6 287.1 L1154.3 285.8 L1152.3 284.9 L1150.1 284.5 L1148.4 284.7Z M1122.4 358.3 L1120.6 364 L1118.8 369.6 L1117.1 375.2 L1115.4 380.8 L1113.7 386.4 L1112 392.1 L1110.3 397.7 L1108.6 403.3 L1106.9 408.9 L1105.3 414.5 L1105.5 415.7 L1106.8 416.9 L1108.8 417.8 L1111 418.2 L1112.8 417.9 L1113.6 417 L1115.3 411.4 L1117 405.8 L1118.7 400.2 L1120.4 394.6 L1122 389 L1123.7 383.4 L1125.4 377.8 L1127.2 372.2 L1128.9 366.6 L1130.7 361.1 L1130.5 359.9 L1129.2 358.7 L1127.2 357.7 L1125.1 357.2 L1123.3 357.5Z M1100.3 432 L1098.7 437.3 L1097.2 442.5 L1095.6 447.8 L1094 453 L1092.5 458.3 L1090.9 463.5 L1089.4 468.8 L1087.8 474 L1086.3 479.3 L1084.7 484.6 L1083.2 489.8 L1083.4 491 L1084.7 492.3 L1086.7 493.1 L1088.9 493.5 L1090.7 493.2 L1091.5 492.3 L1093.1 487 L1094.6 481.8 L1096.2 476.5 L1097.7 471.3 L1099.3 466 L1100.9 460.8 L1102.4 455.5 L1104 450.3 L1105.5 445 L1107.1 439.7 L1108.6 434.5 L1108.4 433.3 L1107.1 432 L1105.1 431.2 L1102.9 430.8 L1101.1 431.1Z M1078.5 506.6 L1076.8 512.2 L1075.2 517.8 L1073.6 523.4 L1071.9 529 L1070.3 534.6 L1068.6 540.2 L1067 545.8 L1065.4 551.4 L1063.7 557 L1062.1 562.7 L1062.4 563.9 L1063.7 565.1 L1065.8 566 L1067.9 566.3 L1069.7 565.9 L1070.6 565 L1072.1 559.5 L1073.8 553.9 L1075.4 548.3 L1077 542.7 L1078.7 537.1 L1080.3 531.5 L1081.9 525.9 L1083.6 520.3 L1085.2 514.7 L1086.9 509.1 L1086.6 507.8 L1085.3 506.6 L1083.3 505.8 L1081.1 505.4 L1079.3 505.8Z M1057.5 580.8 L1056.1 586.3 L1054.6 591.9 L1053.1 597.5 L1051.6 603.1 L1050.1 608.7 L1048.6 614.3 L1047.1 619.9 L1045.6 625.5 L1044.1 631.1 L1042.5 636.6 L1042.8 637.8 L1044.1 639.1 L1046.1 639.9 L1048.3 640.3 L1050.1 639.9 L1050.9 639.1 L1052.5 633.4 L1054 627.8 L1055.5 622.2 L1057 616.6 L1058.5 611 L1060 605.4 L1061.5 599.8 L1063 594.2 L1064.5 588.6 L1066 583 L1065.7 581.8 L1064.4 580.6 L1062.3 579.7 L1060.1 579.5 L1058.4 579.8Z M1037.3 653.3 L1036 659.2 L1034.7 665.1 L1033.4 670.9 L1032.1 676.8 L1030.8 682.6 L1029.5 688.4 L1028.2 694.3 L1026.9 700.1 L1025.5 705.8 L1024.1 711.4 L1024.3 712.6 L1025.6 713.8 L1027.6 714.7 L1029.8 715.1 L1031.6 714.8 L1032.4 713.9 L1034 707.9 L1035.4 702.1 L1036.8 696.2 L1038.1 690.3 L1039.4 684.5 L1040.7 678.6 L1041.9 672.8 L1043.2 667 L1044.5 661.2 L1045.8 655.4 L1045.5 654.2 L1044.2 653.1 L1042.1 652.2 L1039.9 652 L1038.2 652.4Z M1015.1 729.2 L1012.8 734.5 L1010.7 739.6 L1008.5 744.8 L1006.4 749.9 L1004.2 755 L1002.1 760.1 L999.9 765.3 L997.7 770.3 L995.5 775.4 L993.3 780.4 L993.3 781.6 L994.4 783 L996.2 784.2 L998.3 784.8 L1000.1 784.8 L1001.1 784.1 L1003.4 778.9 L1005.7 773.8 L1007.9 768.7 L1010.1 763.5 L1012.2 758.4 L1014.4 753.2 L1016.5 748.1 L1018.7 743 L1020.8 737.9 L1023 732.9 L1022.9 731.7 L1021.8 730.3 L1020 729.1 L1017.9 728.5 L1016.1 728.5Z M983 795.6 L979.4 800.1 L975.9 804.5 L972.3 809 L968.7 813.4 L965.1 817.8 L961.5 822.3 L957.9 826.7 L954.3 831.1 L950.7 835.5 L947.1 840 L946.9 841.2 L947.6 842.8 L949.1 844.3 L950.9 845.4 L952.6 845.8 L953.7 845.3 L957.3 840.9 L960.9 836.5 L964.5 832 L968.1 827.6 L971.7 823.2 L975.3 818.7 L978.9 814.3 L982.5 809.8 L986.1 805.4 L989.6 800.9 L989.8 799.7 L989.1 798.1 L987.6 796.6 L985.8 795.5 L984.1 795.1Z M935.5 854.5 L931.5 858.7 L927.5 862.8 L923.5 867 L919.5 871.1 L915.5 875.3 L911.5 879.4 L907.4 883.5 L903.4 887.7 L899.3 891.8 L895.3 895.9 L894.9 897 L895.5 898.6 L896.8 900.3 L898.5 901.6 L900.1 902.1 L901.3 901.8 L905.3 897.7 L909.4 893.6 L913.5 889.4 L917.5 885.3 L921.5 881.2 L925.6 877 L929.6 872.9 L933.6 868.7 L937.6 864.5 L941.6 860.3 L941.9 859.1 L941.3 857.5 L940 855.8 L938.2 854.6 L936.6 854.1Z M880.7 909.3 L876.2 912.8 L871.7 916.4 L867.2 920 L862.7 923.5 L858.2 927.1 L853.7 930.6 L849.1 934.1 L844.6 937.6 L840.1 941.1 L835.5 944.6 L835 945.7 L835.3 947.4 L836.4 949.2 L837.9 950.7 L839.4 951.4 L840.6 951.2 L845.1 947.7 L849.7 944.2 L854.2 940.7 L858.8 937.1 L863.3 933.6 L867.8 930.1 L872.4 926.5 L876.9 922.9 L881.4 919.3 L885.9 915.7 L886.4 914.6 L886 913 L884.9 911.2 L883.4 909.7 L881.8 909Z M819.9 955.2 L814.9 958 L809.8 960.8 L804.8 963.6 L799.7 966.3 L794.6 969.1 L789.5 971.8 L784.4 974.6 L779.2 977.3 L774.1 980 L769 982.6 L768.3 983.6 L768.4 985.2 L769 987.2 L770.2 988.9 L771.6 989.9 L772.7 989.9 L777.9 987.2 L783.1 984.5 L788.2 981.8 L793.3 979.1 L798.4 976.3 L803.6 973.5 L808.7 970.8 L813.8 968 L818.9 965.2 L824 962.3 L824.6 961.4 L824.5 959.7 L823.7 957.8 L822.5 956.1 L821.1 955.2Z M753.5 988.8 L748.2 990.6 L743 992.3 L737.7 994.1 L732.5 995.8 L727.3 997.6 L722.1 999.3 L716.8 1001.1 L711.6 1002.8 L706.3 1004.5 L701.1 1006.2 L695.9 1007.8 L695.1 1008.6 L694.8 1010.3 L695.2 1012.3 L696 1014.1 L697.1 1015.3 L698.3 1015.5 L703.6 1013.9 L708.8 1012.2 L714.1 1010.5 L719.3 1008.7 L724.6 1007 L729.8 1005.3 L735.1 1003.5 L740.3 1001.8 L745.6 1000 L750.8 998.2 L756 996.5 L756.8 995.6 L757 994 L756.6 992 L755.7 990.2 L754.6 989Z M681.5 1011 L675.9 1012.1 L670.3 1013.2 L664.7 1014.3 L659.2 1015.4 L653.6 1016.5 L648 1017.6 L642.4 1018.7 L636.9 1019.7 L631.3 1020.8 L625.7 1021.9 L624.8 1022.6 L624.4 1024.2 L624.5 1026.2 L625.2 1028.2 L626.2 1029.5 L627.3 1029.8 L632.8 1028.7 L638.4 1027.6 L644 1026.5 L649.6 1025.4 L655.1 1024.4 L660.7 1023.3 L666.3 1022.2 L671.8 1021.1 L677.4 1020 L682.9 1018.9 L683.8 1018.2 L684.3 1016.6 L684.2 1014.6 L683.6 1012.7 L682.6 1011.3Z"/>
<path id="high-demand-start" d="M623.2 1013.2 L626 1026" fill="none" stroke="#1a1a1a" stroke-width="6.4" stroke-linecap="round"/>
<g id="carbon-tax">
<circle cx="639.7" cy="1010.6" r="4.6"/>
<circle cx="654.7" cy="1007" r="4.6"/>
<circle cx="669.7" cy="1002.8" r="4.6"/>
<circle cx="685.3" cy="999.2" r="4.6"/>
<circle cx="700.7" cy="994.5" r="4.6"/>
<circle cx="715.7" cy="989" r="4.6"/>
<circle cx="730.8" cy="982.2" r="4.6"/>
<circle cx="746.4" cy="975.5" r="4.6"/>
<circle cx="761.4" cy="968.9" r="4.6"/>
<circle cx="776" cy="962.9" r="4.6"/>
<circle cx="791" cy="954.6" r="4.6"/>
<circle cx="804.3" cy="945.8" r="4.6"/>
<circle cx="818.1" cy="935.8" r="4.6"/>
<circle cx="831.2" cy="927" r="4.6"/>
<circle cx="844.2" cy="917" r="4.6"/>
<circle cx="857.5" cy="907" r="4.6"/>
<circle cx="869.6" cy="896.9" r="4.6"/>
<circle cx="881.4" cy="885.1" r="4.6"/>
<circle cx="892.1" cy="872.6" r="4.6"/>
<circle cx="903.4" cy="861" r="4.6"/>
<circle cx="914.7" cy="849.2" r="4.6"/>
<circle cx="925.8" cy="837.4" r="4.6"/>
<circle cx="936.6" cy="825.9" r="4.6"/>
<circle cx="946.6" cy="813.4" r="4.6"/>
<circle cx="956.6" cy="800.3" r="4.6"/>
<circle cx="965.4" cy="786.5" r="4.6"/>
<circle cx="975.5" cy="772.7" r="4.6"/>
<circle cx="983.8" cy="760" r="4.6"/>
<circle cx="992.5" cy="747.4" r="4.6"/>
<circle cx="1002.6" cy="733.3" r="4.6"/>
<circle cx="1011.5" cy="720.3" r="4.6"/>
<circle cx="1021.5" cy="708.5" r="4.6"/>
<circle cx="1047" cy="691.4" r="4.6"/>
<circle cx="1062.3" cy="685.2" r="4.6"/>
<circle cx="1077.1" cy="678.1" r="4.6"/>
<circle cx="1092.9" cy="670.6" r="4.6"/>
<circle cx="1106.7" cy="663.8" r="4.6"/>
<circle cx="1121.3" cy="656.3" r="4.6"/>
<circle cx="1134.3" cy="647.7" r="4.6"/>
<circle cx="1148.3" cy="640.1" r="4.6"/>
<circle cx="1162.7" cy="632" r="4.6"/>
<circle cx="1177" cy="623.9" r="4.6"/>
<circle cx="1190.8" cy="616.9" r="4.6"/>
<circle cx="1204.8" cy="609.7" r="4.6"/>
<circle cx="1219" cy="602.8" r="4.6"/>
<circle cx="1247.9" cy="587.8" r="4.6"/>
<circle cx="1262.9" cy="581.5" r="4.6"/>
<circle cx="1277.7" cy="575.2" r="4.6"/>
<circle cx="1292.4" cy="568.9" r="4.6"/>
<circle cx="1306.8" cy="562.7" r="4.6"/>
<circle cx="1322.5" cy="556.4" r="4.6"/>
<circle cx="1337.6" cy="550.1" r="4.6"/>
<circle cx="1352.6" cy="543.2" r="4.6"/>
<circle cx="1367.7" cy="536.9" r="4.6"/>
<circle cx="1382.5" cy="533.6" r="4.6"/>
<circle cx="1397.6" cy="527.4" r="4.6"/>
<circle cx="1412.7" cy="521.1" r="4.6"/>
<circle cx="1428" cy="514.8" r="4.6"/>
<circle cx="1443.4" cy="508.9" r="4.6"/>
<circle cx="1458.5" cy="502.3" r="4.6"/>
<circle cx="1473.5" cy="497.2" r="4.6"/>
<circle cx="1489.4" cy="493.5" r="4.6"/>
<circle cx="1504.9" cy="494.4" r="4.6"/>
<circle cx="1521.2" cy="497.2" r="4.6"/>
<circle cx="1537.9" cy="500.4" r="4.6"/>
<circle cx="1553.8" cy="503.3" r="4.6"/>
<circle cx="1569.7" cy="503.3" r="4.6"/>
<circle cx="1584.3" cy="494.1" r="4.6"/>
<circle cx="1597.8" cy="486.2" r="4.6"/>
<circle cx="1612" cy="478" r="4.6"/>
<circle cx="1625.8" cy="469.9" r="4.6"/>
<circle cx="1640.2" cy="461.1" r="4.6"/>
<circle cx="1654.6" cy="453.6" r="4.6"/>
<circle cx="1669.7" cy="447.3" r="4.6"/>
<circle cx="1685.4" cy="439.1" r="4.6"/>
<circle cx="1700.4" cy="431.6" r="4.6"/>
<circle cx="1716.1" cy="424.7" r="4.6"/>
<circle cx="1731.2" cy="417.2" r="4.6"/>
<circle cx="1746.2" cy="410.3" r="4.6"/>
<circle cx="1762.5" cy="403.4" r="4.6"/>
<circle cx="1777.8" cy="395.8" r="4.6"/>
<circle cx="1793.3" cy="388.3" r="4.6"/>
<circle cx="528" cy="1031" r="3.4"/>
<circle cx="543.6" cy="1030" r="3.5"/>
<circle cx="559.2" cy="1028.4" r="3.6"/>
<circle cx="575.4" cy="1025.6" r="3.7"/>
<circle cx="592.2" cy="1022.6" r="3.8"/>
<circle cx="608.2" cy="1020.2" r="3.8"/>
<path d="M528 1031 V1034 M543.6 1030 V1034 M559.2 1028.4 V1034 M575.4 1025.6 V1034 M592.2 1022.6 V1034 M608.2 1020.2 V1034" fill="none" stroke="#1a1a1a" stroke-width="6.4"/>
<path d="M1249.4 576.6 L1247.9 587.8 M1308.3 551.6 L1306.8 562.7 M1324 546.5 L1322.5 556.4 M1339.1 541.1 L1337.6 550.1 M1354.1 535 L1352.6 543.2 M1369.2 528.2 L1367.7 536.9 M1384 521.4 L1382.5 533.6 M1399.1 514.4 L1397.6 527.4 M1414.2 507.8 L1412.7 521.1 M1429.5 501.7 L1428 514.8 M1444.9 495.6 L1443.4 508.9 M1460 490 L1458.5 502.3 M1475 485.2 L1473.5 497.2 M1490.9 482.8 L1489.4 493.5 M1641.7 450.2 L1640.2 461.1 M1656.1 443.9 L1654.6 453.6 M1671.2 437 L1669.7 447.3 M1686.9 429.6 L1685.4 439.1 M1701.9 422.5 L1700.4 431.6 M1717.6 415.1 L1716.1 424.7 M1732.7 407.9 L1731.2 417.2 M1747.7 401 L1746.2 410.3 M1764 393.6 L1762.5 403.4 M1779.3 386.6 L1777.8 395.8 M1794.8 379.4 L1793.3 388.3" fill="none" stroke="#1a1a1a" stroke-width="7.6"/>
</g>
</g>
<g id="specks" fill="#8a8a8a"><circle cx="414.4" cy="1166.3" r="1.3"/><circle cx="420" cy="1155.5" r="1"/></g>
<g id="labels">
<text class="r" font-size="46.8" transform="translate(145.4 77.6) scale(1.0420 1)">100</text>
<text class="r" font-size="46.8" transform="translate(165.9 266) scale(1.0743 1)">80</text>
<text class="r" font-size="46.8" transform="translate(165 464.6) scale(1.0781 1)">60</text>
<text class="r" font-size="46.8" transform="translate(164.1 658.5) scale(1.0826 1)">40</text>
<text class="r" font-size="46.8" transform="translate(161.7 856.8) scale(1.0637 1)">20</text>
<text class="r" font-size="46.8" transform="translate(189.1 1048.2) scale(1.0556 1)">0</text>
<text class="b" font-size="52.3" transform="translate(265.5 1129.3) scale(0.9957 1)">−20</text>
<text class="b" font-size="52.3" transform="translate(423.6 1129.3) scale(0.9957 1)">−10</text>
<text class="b" font-size="52.3" transform="translate(611.8 1129.3) scale(1.0461 1)">0</text>
<text class="b" font-size="52.3" transform="translate(755.8 1129.3) scale(0.9984 1)">10</text>
<text class="b" font-size="52.3" transform="translate(913.8 1129.3) scale(1.0015 1)">20</text>
<text class="b" font-size="52.3" transform="translate(1071.8 1129.3) scale(0.9776 1)">30</text>
<text class="b" font-size="52.3" transform="translate(1215.7 1129.3) scale(0.9616 1)">40</text>
<text class="b" font-size="52.3" transform="translate(1373.5 1129.3) scale(0.9812 1)">50</text>
<text class="b" font-size="52.3" transform="translate(1529.9 1129.3) scale(1.0143 1)">60</text>
<text class="b" font-size="52.3" transform="translate(1689.4 1129.3) scale(0.9923 1)">70</text>
<text class="r" font-size="47.4" transform="translate(731.9 1203.5) scale(1.0096 1)">Introduction time lag (years)</text>
<text class="r" font-size="47.4" transform="translate(779.4 1258) scale(1.0081 1)">compared to base case</text>
<text class="i" font-size="41.2" transform="translate(1199.9 262.2) scale(1.0140 1)">Uncertain</text>
<text class="i" font-size="41.2" transform="translate(1199 310.4) scale(1.0212 1)">high demand</text>
<text class="i" font-size="41.2" transform="translate(607.5 883.4) scale(1.0146 1)">Base case</text>
<text class="i" font-size="41.2" transform="translate(553.6 933) scale(1.0087 1)">w/ carbon tax</text>
<text class="i" font-size="41.2" transform="translate(1156.2 792.6) scale(0.9931 1)">Base</text>
<text class="i" font-size="41.2" transform="translate(1155.6 841.7) scale(0.9987 1)">case</text>
<text class="i" font-size="41.2" transform="translate(1342.3 886.8) scale(1.0280 1)">Uncertain</text>
<text class="i" font-size="41.2" transform="translate(1342.1 935.4) scale(1.0298 1)">low demand</text>
<text class="r" font-size="48" transform="translate(88.8 880.3) rotate(-90) scale(1.0072 1.0200)">New capacity additions (in GW)</text>
</g>
</g>
</svg>
</body>
</html>
